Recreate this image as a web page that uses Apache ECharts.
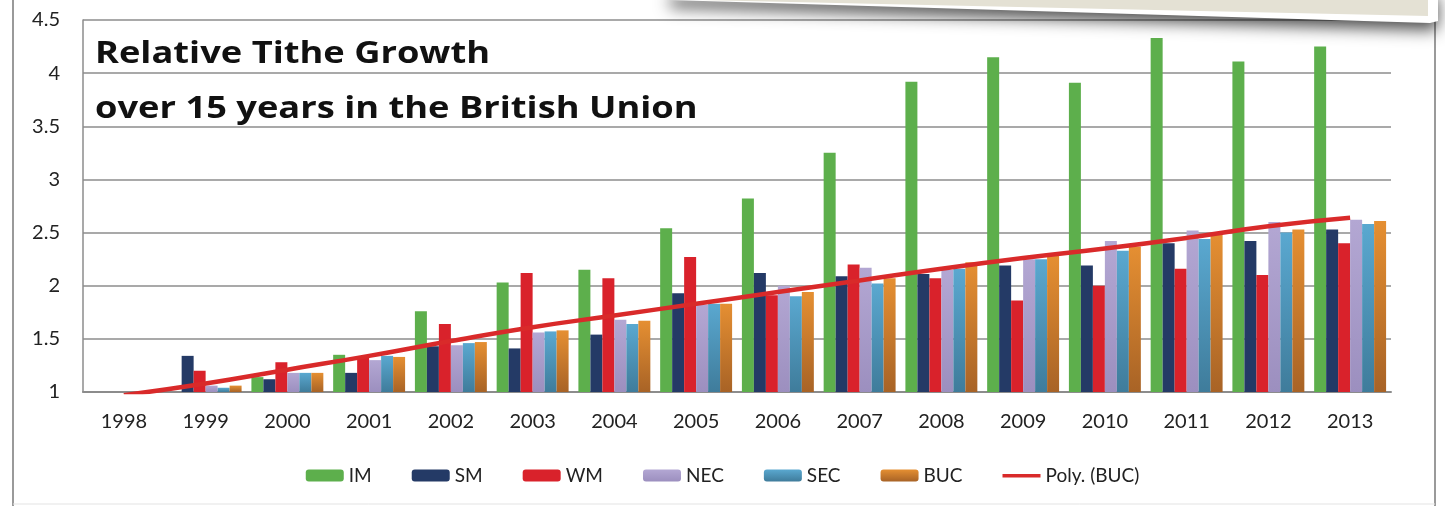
<!DOCTYPE html>
<html>
<head>
<meta charset="utf-8">
<script src="https://cdn.jsdelivr.net/npm/echarts@6/dist/echarts.min.js"></script>
<style>
html,body{margin:0;padding:0;background:#fff;}
#chart{width:1445px;height:506px;}
</style>
</head>
<body>
<div id="chart"></div>
<script>
const years = ['1998','1999','2000','2001','2002','2003','2004','2005','2006','2007','2008','2009','2010','2011','2012','2013'];
const IM  = [1.00, 1.00, 1.14, 1.35, 1.76, 2.03, 2.15, 2.54, 2.82, 3.25, 3.92, 4.15, 3.91, 4.33, 4.11, 4.25];
const SM  = [1.00, 1.34, 1.12, 1.18, 1.43, 1.41, 1.54, 1.93, 2.12, 2.09, 2.11, 2.19, 2.19, 2.40, 2.42, 2.53];
const WM  = [1.00, 1.20, 1.28, 1.33, 1.64, 2.12, 2.07, 2.27, 1.91, 2.20, 2.07, 1.86, 2.00, 2.16, 2.10, 2.40];
const NEC = [1.00, 1.06, 1.18, 1.30, 1.44, 1.56, 1.68, 1.82, 2.00, 2.17, 2.15, 2.25, 2.42, 2.52, 2.60, 2.62];
const SEC = [1.00, 1.04, 1.18, 1.34, 1.46, 1.57, 1.64, 1.83, 1.90, 2.02, 2.16, 2.25, 2.33, 2.44, 2.50, 2.58];
const BUC = [1.00, 1.06, 1.18, 1.33, 1.47, 1.58, 1.67, 1.83, 1.94, 2.07, 2.22, 2.28, 2.37, 2.48, 2.53, 2.61];
const POLY_BUC = [0.97, 1.08, 1.21, 1.34, 1.48, 1.61, 1.72, 1.83, 1.94, 2.05, 2.16, 2.26, 2.35, 2.45, 2.56, 2.64];
const yTicks = {min: 1, max: 4.5, interval: 0.5};
const titleLines = ['Relative Tithe Growth', 'over 15 years in the British Union'];

const FONT = 'Lato, "Open Sans", sans-serif';
const TFONT = '"Open Sans", Lato, sans-serif';
function grad(top, bottom){
  return new echarts.graphic.LinearGradient(0,0,0,1,[{offset:0,color:top},{offset:1,color:bottom}]);
}
const seriesDefs = [
  {name:'IM',  data:IM,  fill:'#5daf4c'},
  {name:'SM',  data:SM,  fill:'#243a66'},
  {name:'WM',  data:WM,  fill:'#d9222b'},
  {name:'NEC', data:NEC, fill:grad('#b3a7d3','#9c8fbf')},
  {name:'SEC', data:SEC, fill:grad('#5aa8d0','#3f7c9b')},
  {name:'BUC', data:BUC, fill:grad('#e58f32','#a86326')}
];
const series = seriesDefs.map(d => ({
  name: d.name, type: 'bar', data: d.data,
  barGap: '0%', barCategoryGap: '12%',
  itemStyle: {color: d.fill},
  emphasis: {disabled: true}
}));
series.push({
  name: 'Poly. (BUC)', type: 'line', data: POLY_BUC, smooth: true,
  symbol: 'none', clip: true, z: 5,
  lineStyle: {color: '#d92a2a', width: 4.5},
  itemStyle: {color: '#d92a2a'}
});

const titleGraphics = titleLines.map((t, i) => ({
  type: 'text', x: 95, y: 54 + i * 55, scaleX: 1.17, z: 50, silent: true,
  style: {text: t, font: 'bold 31px ' + TFONT, fill: '#111', verticalAlign: 'middle', align: 'left'}
}));

const chart = echarts.init(document.getElementById('chart'));
chart.setOption({
  animation: false,
  backgroundColor: '#ffffff',
  legend: {
    data: ['IM','SM','WM','NEC','SEC','BUC',{name:'Poly. (BUC)', icon:'path://M0,0 L0,0 M0,4.5 L38,4.5 L38,8 L0,8 Z M38,12 L38,12'}],
    top: 461, left: 'center',
    itemWidth: 38, itemHeight: 12, itemGap: 40,
    textStyle: {fontFamily: FONT, fontSize: 19, color: '#222'}
  },
  grid: {left: 83, right: 54, top: 20, bottom: 114, containLabel: false},
  xAxis: {
    type: 'category', data: years,
    axisLine: {show: true, lineStyle: {color: '#8c8c8c', width: 2}},
    axisTick: {show: false},
    axisLabel: {fontFamily: FONT, fontSize: 20, color: '#222', margin: 20}
  },
  yAxis: {
    type: 'value', min: yTicks.min, max: yTicks.max, interval: yTicks.interval,
    axisLine: {show: true, lineStyle: {color: '#8c8c8c', width: 1.5}},
    axisTick: {show: false},
    splitLine: {lineStyle: {color: '#8c8c8c', width: 1.5}},
    axisLabel: {fontFamily: FONT, fontSize: 20, color: '#222', margin: 23}
  },
  graphic: [
    {type:'line', shape:{x1:13,y1:0,x2:13,y2:506}, style:{stroke:'#9a9a9a', lineWidth:2}, silent:true},
    {type:'line', shape:{x1:1435,y1:0,x2:1435,y2:506}, style:{stroke:'#9a9a9a', lineWidth:2}, silent:true},
    {type:'line', shape:{x1:13,y1:504,x2:1435,y2:504}, style:{stroke:'#e3e3e3', lineWidth:1}, silent:true},
    {type:'polygon', z: 100, shape:{points:[[670,-10],[1438,-10],[1438,21],[1430,23],[670,0]]},
      style:{fill:'#ffffff', shadowBlur:16, shadowColor:'rgba(0,0,0,0.7)', shadowOffsetY:7}, silent:true},
    {type:'polygon', z: 101, shape:{points:[[700,-10],[1428,-10],[1428,16],[700,0]]},
      style:{fill:'#e4e1d4'}, silent:true}
  ].concat(titleGraphics),
  series: series
});
</script>
</body>
</html>
